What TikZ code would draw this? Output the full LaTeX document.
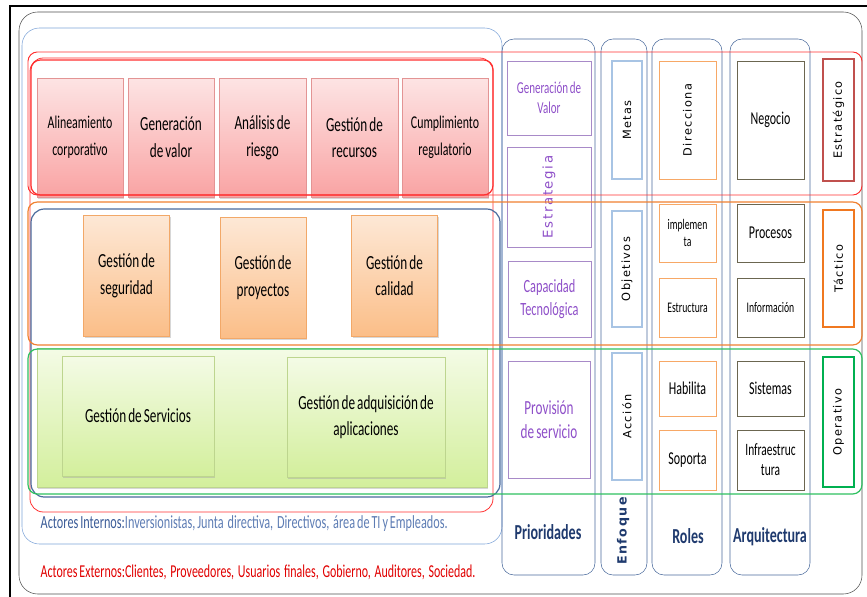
\documentclass[tikz,border=0pt]{standalone}
\usepackage{fontspec}
\setmainfont{Carlito}[FakeStretch=0.66,WordSpace=0.7]
\newfontfamily\vfont[LetterSpace=12]{DejaVu Sans}
\usetikzlibrary{positioning,shadows}

\definecolor{frameline}{HTML}{505050}
\definecolor{bluecont}{HTML}{7EA3D8}
\definecolor{navyline}{HTML}{4A6A9C}
\definecolor{navytext}{HTML}{1F3A6E}
\definecolor{bandred}{HTML}{FF3030}
\definecolor{bandorange}{HTML}{F08030}
\definecolor{bandgreen}{HTML}{2EC060}
\definecolor{pinktop}{HTML}{FDE4E4}
\definecolor{pinkbot}{HTML}{F9A3A3}
\definecolor{pinkline}{HTML}{E39494}
\definecolor{orgtop}{HTML}{FDE8D6}
\definecolor{orgbot}{HTML}{FBBE88}
\definecolor{orgline}{HTML}{F2A868}
\definecolor{grntop}{HTML}{F4FBE6}
\definecolor{grnbot}{HTML}{D3EF9C}
\definecolor{grnline}{HTML}{BDD58E}
\definecolor{purpline}{HTML}{A88AC8}
\definecolor{purptext}{HTML}{8E4FC8}
\definecolor{metaline}{HTML}{A8C4E4}
\definecolor{roleline}{HTML}{F7A866}
\definecolor{archline}{HTML}{6B6650}
\definecolor{estline}{HTML}{C0504D}
\definecolor{tacline}{HTML}{F07820}
\definecolor{opeline}{HTML}{00B050}
\definecolor{intblue}{HTML}{3B5C98}
\definecolor{intlight}{HTML}{5E7DB4}
\definecolor{extred}{HTML}{E00000}

\begin{document}
\begin{tikzpicture}[x=0.75pt,y=-0.75pt,
    size/.style 2 args={minimum width=#1*0.75pt,minimum height=#2*0.75pt},
    boxbase/.style={inner sep=0pt,align=center,font=\fontsize{15}{20}\selectfont},
    shade/.style={drop shadow={shadow xshift=1pt,shadow yshift=-1.2pt,fill=black!35,opacity=.45}},
    pinkbox/.style={boxbase,shade,draw=pinkline,top color=pinktop,bottom color=pinkbot,size={86}{119}},
    orgbox/.style={boxbase,shade,draw=orgline,top color=orgtop,bottom color=orgbot,size={86}{121}},
    grnbox/.style={boxbase,shade,draw=grnline,top color=grntop,bottom color=grnbot},
    prbox/.style={boxbase,draw=purpline,text=purptext,font=\fontsize{14}{17}\selectfont},
    enbox/.style={boxbase,draw=metaline,line width=.8pt},
    rolbox/.style={boxbase,draw=roleline,font=\fontsize{13.6}{15}\selectfont},
    arqbox/.style={boxbase,draw=archline,font=\fontsize{13.6}{15}\selectfont},
    lvlbox/.style={boxbase,line width=2.2pt},
    vtext/.style={rotate=90,font=\vfont\fontsize{8.5}{10}\selectfont},
    column/.style={draw=navyline,rounded corners=9pt},
    band/.style={rounded corners=7pt,line width=.9pt},
    head/.style={font=\bfseries\fontsize{16}{18}\selectfont,text=navytext}]
    \useasboundingbox (0,0) rectangle (867,596);
    % outer frames
    \draw[line width=1.4pt] (10,6) rectangle (880,610);
    \draw[frameline,rounded corners=14pt] (19,12) rectangle (862,594);
    \draw[bluecont,rounded corners=13pt] (22,28) rectangle (502,544);
    % columns on the right
    \draw[column] (502,39) rectangle (595,575);
    \draw[column] (601,39) rectangle (647,575);
    \draw[column] (652,39) rectangle (722,575);
    \draw[column] (730,39) rectangle (810,575);
    % processes
    \node[pinkbox,font=\fontsize{13.5}{20}\selectfont] (alin) at (80,137.5) {Alineamiento\\corporativo};
    \node[pinkbox] (genv) at (171,137.5) {Generación\\de valor};
    \node[pinkbox,size={87}{119}] (anal) at (262.5,137.5) {Análisis de\\riesgo};
    \node[pinkbox,size={87}{119}] (grec) at (354.5,137.5) {Gestión de\\recursos};
    \node[pinkbox,font=\fontsize{13.5}{20}\selectfont] (cump) at (445,137.5) {Cumplimiento\\regulatorio};
    \node[orgbox] (gseg) at (126.5,275.5) {Gestión de\\seguridad};
    \node[orgbox] (gpro) at (263,277.5) {Gestión de\\proyectos};
    \node[orgbox] (gcal) at (394.5,275.5) {Gestión de\\calidad};
    \node[grnbox,size={450}{139}] (opbg) at (262,417.5) {};
    \node[grnbox,size={152}{120}] (gser) at (138,416) {Gestión de Servicios};
    \node[grnbox,size={158}{120}] (gadq) at (366,417) {Gestión de adquisición de\\aplicaciones};
    % prioridades
    \node[prbox,size={84}{74},font=\fontsize{12.5}{15}\selectfont] (genval) at (549,98) {Generación de\\Valor};
    \node[prbox,size={84}{100},label={[vtext,text=purptext,font=\vfont\fontsize{10}{12}\selectfont]center:Estrategia}] (estr) at (549,197) {};
    \node[prbox,size={83}{76}] (capt) at (549.5,299) {Capacidad\\Tecnológica};
    \node[prbox,size={82}{117},font=\fontsize{15}{18}\selectfont] (prov) at (549,419.5) {Provisión\\de servicio};
    % enfoque
    \node[enbox,size={30}{118},label={[vtext]center:Metas}] (metas) at (627,120) {};
    \node[enbox,size={30}{116},label={[vtext]center:Objetivos}] (obj) at (627,269) {};
    \node[enbox,size={30}{127},label={[vtext]center:Acción}] (acc) at (627,416.5) {};
    % roles
    \node[rolbox,size={57}{118},label={[vtext]center:Direcciona}] (dir) at (687.5,120) {};
    \node[rolbox,size={57}{58},font=\fontsize{11}{13}\selectfont] (impl) at (687.5,233) {implemen\\ta};
    \node[rolbox,size={57}{59},font=\fontsize{11}{13}\selectfont] (estruc) at (687.5,307.5) {Estructura};
    \node[rolbox,size={57}{55}] (hab) at (687.5,388.5) {Habilita};
    \node[rolbox,size={57}{60}] (sop) at (687.5,460) {Soporta};
    % arquitectura
    \node[arqbox,size={67}{118}] (neg) at (770.5,120) {Negocio};
    \node[arqbox,size={67}{58}] (proc) at (770.5,233) {Procesos};
    \node[arqbox,size={67}{59},font=\fontsize{11}{13}\selectfont] (info) at (770.5,307.5) {Información};
    \node[arqbox,size={67}{55}] (sist) at (770.5,388.5) {Sistemas};
    \node[arqbox,size={67}{60},font=\fontsize{13}{15}\selectfont] (infra) at (770.5,460) {Infraestruc\\tura};
    % niveles
    \node[lvlbox,draw=estline,size={31}{122},label={[vtext]center:Estratégico}] (estg) at (838.5,120) {};
    \node[lvlbox,draw=tacline,size={31}{117},label={[vtext]center:Táctico}] (tact) at (838.5,268.5) {};
    \node[lvlbox,draw=opeline,size={31}{130},label={[vtext]center:Operativo}] (oper) at (838.5,422) {};
    % bands and groups
    \draw[bandred,rounded corners=10pt,line width=.6pt] (30,58) rectangle (493,512);
    \draw[bandred,band] (31,60) rectangle (493,195);
    \draw[navyline,rounded corners=10pt,line width=.9pt] (31,209) rectangle (500,497);
    \draw[bandred,band,line width=.7pt] (28,52) rectangle (862,195);
    \draw[bandorange,band] (28,202) rectangle (862,345);
    \draw[bandgreen,band] (28,349) rectangle (862,494);
    % headings
    \node[head] (prio) at (548,532) {Prioridades};
    \node[head,rotate=90,font=\vfont\bfseries\fontsize{9.5}{11}\selectfont] (enf) at (623,531) {Enfoque};
    \node[head] (roles) at (688,536) {Roles};
    \node[head] (arq) at (770,537) {Arquitectura};
    \node[anchor=west,font=\fontsize{13.9}{15}\selectfont,text=intlight] (actint) at (36,524)
        {\textcolor{intblue}{Actores Internos:}Inversionistas, Junta\ \ directiva,\ \ Directivos,\ \ área de TI y Empleados.};
    \node[anchor=west,font=\fontsize{13.6}{15}\selectfont,text=extred] (actext) at (36,572)
        {Actores Externos:Clientes,\ \ Proveedores,\ \ Usuarios\ \ finales,\ \ Gobierno,\ \ Auditores,\ \ Sociedad.};
\end{tikzpicture}
\end{document}
